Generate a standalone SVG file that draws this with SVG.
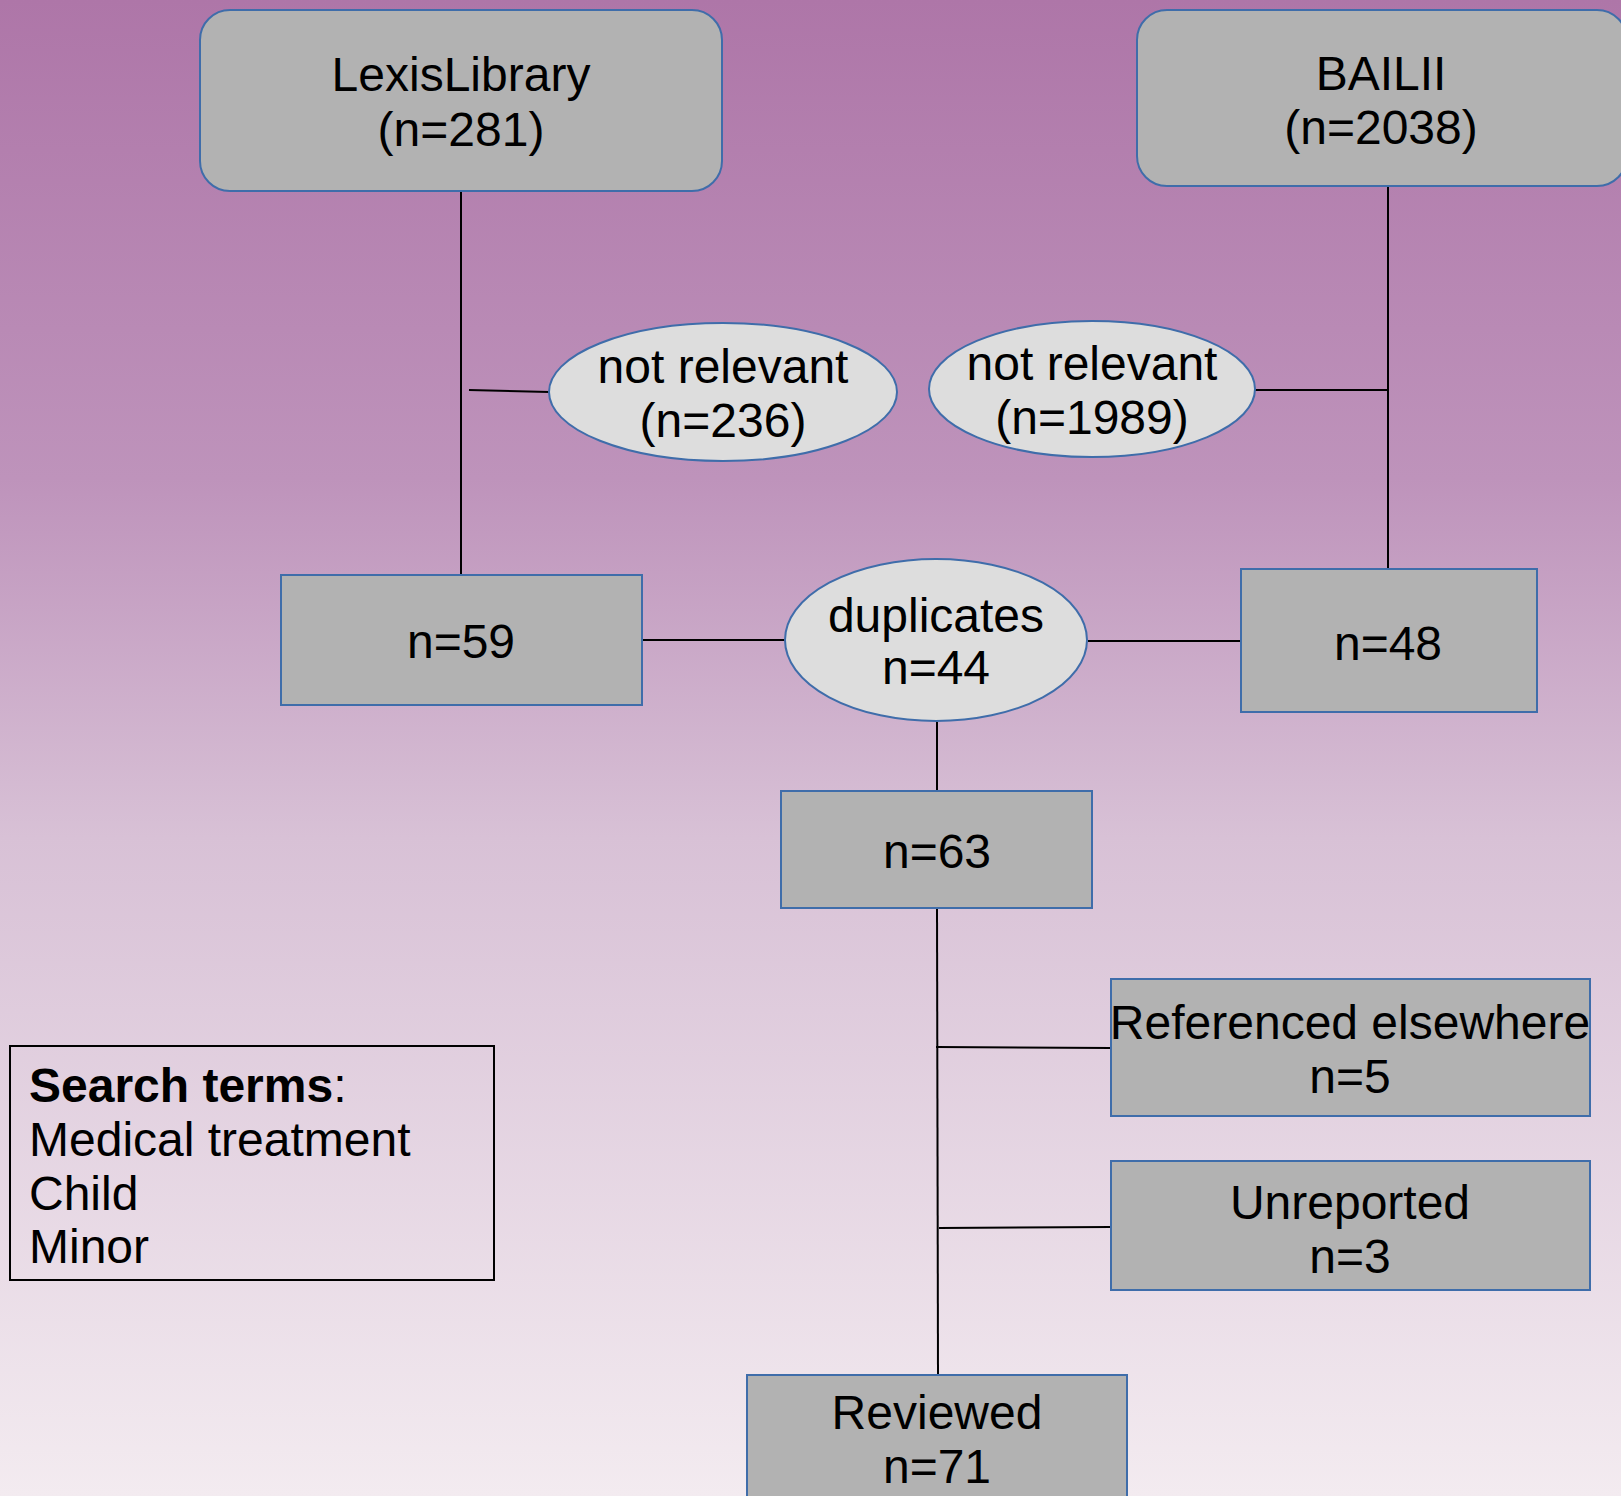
<svg xmlns="http://www.w3.org/2000/svg" width="1621" height="1496" viewBox="0 0 1621 1496">
<defs>
<linearGradient id="bg" x1="0" y1="0" x2="0" y2="1">
<stop offset="0" stop-color="#AE76A8"/>
<stop offset="0.32" stop-color="#BE93BB"/>
<stop offset="0.56" stop-color="#D8C1D6"/>
<stop offset="1" stop-color="#F3EBF0"/>
</linearGradient>
<style>
.box{fill:#B2B2B2;stroke:#3F6DAA;stroke-width:2}
.ell{fill:#DDDDDD;stroke:#3F6DAA;stroke-width:2}
.t{font-family:"Liberation Sans",Arial,sans-serif;font-size:48px;fill:#000;text-anchor:middle}
.tl{font-family:"Liberation Sans",Arial,sans-serif;font-size:48px;fill:#000}
.c{stroke:#000;stroke-width:2;fill:none}
</style>
</defs>
<rect x="0" y="0" width="1621" height="1496" fill="url(#bg)"/>
<g id="connectors">
<line class="c" x1="461" y1="191" x2="461" y2="575"/>
<line class="c" x1="469" y1="390" x2="549" y2="392"/>
<line class="c" x1="1388" y1="186" x2="1388" y2="569"/>
<line class="c" x1="1255" y1="390" x2="1388" y2="390"/>
<line class="c" x1="642" y1="640" x2="785" y2="640"/>
<line class="c" x1="1088" y1="641" x2="1241" y2="641"/>
<line class="c" x1="937" y1="722" x2="937" y2="791"/>
<line class="c" x1="937" y1="908" x2="938" y2="1375"/>
<line class="c" x1="936" y1="1047" x2="1111" y2="1048"/>
<line class="c" x1="939" y1="1228" x2="1111" y2="1227"/>
</g>
<g id="lexis">
<rect class="box" x="200" y="10" width="522" height="181" rx="30"/>
<text class="t" x="461" y="91">LexisLibrary</text>
<text class="t" x="461" y="146">(n=281)</text>
</g>
<g id="bailii">
<rect class="box" x="1137" y="10" width="490" height="176" rx="30"/>
<text class="t" x="1381" y="90">BAILII</text>
<text class="t" x="1381" y="144">(n=2038)</text>
</g>
<g id="notrel1">
<ellipse class="ell" cx="723" cy="392" rx="174" ry="69"/>
<text class="t" x="723" y="383">not relevant</text>
<text class="t" x="723" y="437">(n=236)</text>
</g>
<g id="notrel2">
<ellipse class="ell" cx="1092" cy="389" rx="163" ry="68"/>
<text class="t" x="1092" y="380">not relevant</text>
<text class="t" x="1092" y="434">(n=1989)</text>
</g>
<g id="n59">
<rect class="box" x="281" y="575" width="361" height="130"/>
<text class="t" x="461" y="658">n=59</text>
</g>
<g id="duplicates">
<ellipse class="ell" cx="936" cy="640" rx="151" ry="81"/>
<text class="t" x="936" y="632">duplicates</text>
<text class="t" x="936" y="684">n=44</text>
</g>
<g id="n48">
<rect class="box" x="1241" y="569" width="296" height="143"/>
<text class="t" x="1388" y="660">n=48</text>
</g>
<g id="n63">
<rect class="box" x="781" y="791" width="311" height="117"/>
<text class="t" x="937" y="868">n=63</text>
</g>
<g id="referenced">
<rect class="box" x="1111" y="979" width="479" height="137"/>
<text class="t" x="1350" y="1039">Referenced elsewhere</text>
<text class="t" x="1350" y="1093">n=5</text>
</g>
<g id="unreported">
<rect class="box" x="1111" y="1161" width="479" height="129"/>
<text class="t" x="1350" y="1219">Unreported</text>
<text class="t" x="1350" y="1273">n=3</text>
</g>
<g id="reviewed">
<rect class="box" x="747" y="1375" width="380" height="130"/>
<text class="t" x="937" y="1429">Reviewed</text>
<text class="t" x="937" y="1483">n=71</text>
</g>
<g id="searchterms">
<rect x="10" y="1046" width="484" height="234" fill="none" stroke="#000" stroke-width="2"/>
<text class="tl" x="29" y="1102"><tspan font-weight="bold">Search terms</tspan>:</text>
<text class="tl" x="29" y="1156">Medical treatment</text>
<text class="tl" x="29" y="1210">Child</text>
<text class="tl" x="29" y="1263">Minor</text>
</g>
</svg>
